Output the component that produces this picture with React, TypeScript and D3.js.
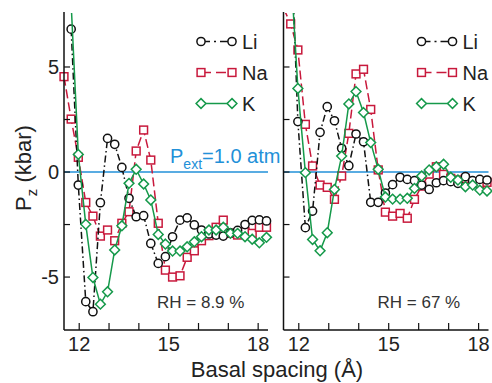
import React from 'react';
import * as d3 from 'd3';

// basal spacing grid (Å)
const spacing = [11.49, 11.73, 11.97, 12.22, 12.46, 12.71, 12.95, 13.19, 13.43, 13.67, 13.91, 14.16, 14.4, 14.65,
  14.89, 15.13, 15.38, 15.62, 15.86, 16.1, 16.35, 16.59, 16.83, 17.07, 17.31, 17.56, 17.8, 18.04, 18.28];

// RH = 8.9 %
const liLow = [null, 6.8, -0.62, -6.17, -6.65, -1.46, 1.6, 1.32, 0.22, -1.25, -2.13, -2.08, -3.4, -4.35,
  -4.03, -3.08, -2.29, -2.18, -2.52, -2.76, -2.95, -3.0, -3.05, -2.9, -2.78, -2.5, -2.3, -2.28, -2.33];
const naLow = [4.54, 2.52, 0.7, -1.45, -2.1, -3.05, -2.76, -3.27, -2.44, -1.89, 1.0, 2.0, 0.57, -2.44,
  -4.67, -5.0, -4.94, -4.06, -3.75, -3.27, -3.03, -2.63, -2.29, -2.92, -3.0, -2.84, -2.92, -2.63, -2.63];
const kLow = [null, 8.0, 0.84, -2.49, -5.02, -6.29, -5.7, -3.71, -2.56, -0.54, 0.13, -0.57, -1.33, -2.97,
  -3.43, -3.76, -3.76, -3.56, -3.32, -3.08, -2.76, -2.76, -2.63, -2.92, -2.92, -3.08, -3.2, -3.37, -3.11];

// RH = 67 %
const liHigh = [null, 11.5, 2.4, -2.65, -1.86, 1.89, 3.11, 2.44, 1.13, 0.3, 1.81, 1.44, -1.44, -1.44,
  -1.0, -0.6, -0.25, -0.35, -0.41, -0.62, -0.83, -0.51, -0.41, -0.46, -0.54, -0.22, -0.41, -0.35, -0.38];
const naHigh = [7.8, 7.05, 5.81, 2.27, 0.29, -0.62, -0.73, -1.3, -0.19, 1.84, 4.67, 4.89, 2.98, 0.1,
  -1.91, -2.1, -1.97, -2.2, -1.3, -0.67, -0.1, 0.25, -0.11, -0.3, -0.38, -0.3, -0.46, -0.54, -0.49];
const kHigh = [null, 9.7, 3.98, -0.03, -3.21, -3.75, -2.89, -0.83, 0.76, 3.24, 3.83, 2.83, 1.4, 0.13,
  -1.19, -1.29, -1.29, -1.25, -0.78, -0.19, 0.1, 0.25, 0.37, -0.25, -0.38, -0.7, -0.62, -0.86, -0.9];

const xTicks = [12, 13, 14, 15, 16, 17, 18];
const xTickLabels = [12, 15, 18];
const yTicks = [-5, -2.5, 0, 2.5, 5];
const yTickLabels = [-5, 0, 5];
const ions = ['Li', 'Na', 'K'];
const rhLabels = ['RH = 8.9 %', 'RH = 67 %'];

const colors: Record<string, string> = { Li: '#111111', Na: '#c8193c', K: '#15994a' };
const dashes: Record<string, string> = { Li: '7,3,1.5,3', Na: '9,4', K: 'none' };
const blue = '#2290d8';
const font = 'Arial, "Liberation Sans", sans-serif';

const W = 492;
const H = 383;
const top = 13;
const bottom = 330;

const y = d3.scaleLinear().domain([-7.52, 7.57]).range([bottom, top]);

type Pt = [number, number | null];

function Marker({ ion, cx, cy }: { ion: string; cx: number; cy: number }) {
  const c = colors[ion];
  if (ion === 'Li') return <circle cx={cx} cy={cy} r={4.1} fill="white" stroke={c} strokeWidth={1.5} />;
  if (ion === 'Na') return <rect x={cx - 3.9} y={cy - 3.9} width={7.8} height={7.8} fill="white" stroke={c} strokeWidth={1.5} />;
  const s = 4.9;
  return <path d={`M${cx},${cy - s}L${cx + s},${cy}L${cx},${cy + s}L${cx - s},${cy}Z`} fill="white" stroke={c} strokeWidth={1.5} />;
}

function Panel({ idx, left, right, series, rh, showY }:
  { idx: number; left: number; right: number; series: Record<string, (number | null)[]>; rh: string; showY: boolean }) {
  const x = d3.scaleLinear().domain([11.49, 18.33]).range([left, right]);
  const line = d3.line<Pt>()
    .defined(d => d[1] !== null)
    .x(d => x(d[0]))
    .y(d => y(d[1] as number));
  const clipId = `clip${idx}`;
  const legX = right - 67;
  const order = ['Na', 'Li', 'K'];
  return (
    <g>
      <defs>
        <clipPath id={clipId}>
          <rect x={left - 8} y={top} width={right - left + 16} height={bottom - top + 6} />
        </clipPath>
      </defs>
      <line x1={left} x2={right} y1={y(0)} y2={y(0)} stroke={blue} strokeWidth={1.5} />
      <g clipPath={`url(#${clipId})`}>
        {order.map(ion => {
          const pts: Pt[] = spacing.map((s, i) => [s, series[ion][i]]);
          return (
            <g key={ion}>
              <path d={line(pts) || ''} fill="none" stroke={colors[ion]} strokeWidth={1.5}
                strokeDasharray={dashes[ion]} />
              {pts.filter(p => p[1] !== null).map((p, i) => (
                <Marker key={i} ion={ion} cx={x(p[0])} cy={y(p[1] as number)} />
              ))}
            </g>
          );
        })}
      </g>
      {/* axes */}
      <line x1={left} x2={left} y1={top - 1} y2={bottom} stroke="#111" strokeWidth={1.5} />
      <line x1={left} x2={right} y1={bottom} y2={bottom} stroke="#111" strokeWidth={1.5} />
      {yTicks.map(t => (
        <line key={t} x1={left} x2={left + 6} y1={y(t)} y2={y(t)} stroke="#111" strokeWidth={1.2} />
      ))}
      {xTicks.map(t => (
        <line key={t} x1={x(t)} x2={x(t)} y1={bottom} y2={bottom - 7} stroke="#111" strokeWidth={1.2} />
      ))}
      {showY && yTickLabels.map(t => (
        <text key={t} x={left - 5} y={y(t)} dy="0.36em" textAnchor="end" fontSize={20} fontFamily={font} fill="#222">
          {t}
        </text>
      ))}
      {xTickLabels.map(t => (
        <text key={t} x={x(t)} y={351} textAnchor="middle" fontSize={20} fontFamily={font} fill="#222">{t}</text>
      ))}
      {/* legend */}
      {ions.map((ion, i) => {
        const ly = 41.5 + i * 31;
        return (
          <g key={ion}>
            <line x1={legX} x2={legX + 31} y1={ly} y2={ly} stroke={colors[ion]} strokeWidth={1.5}
              strokeDasharray={ion === 'Li' ? '9,4,2,4' : ion === 'Na' ? '10,5' : 'none'} />
            <Marker ion={ion} cx={legX} cy={ly} />
            <Marker ion={ion} cx={legX + 31} cy={ly} />
            <text x={legX + 41} y={ly} dy="0.36em" fontSize={20} fontFamily={font} fill="#222">{ion}</text>
          </g>
        );
      })}
      <text x={right - 111} y={308} fontSize={17} fontFamily={font} fill="#333">{rh}</text>
    </g>
  );
}

export default function App() {
  return (
    <svg width={W} height={H} style={{ position: 'absolute', left: 0, top: 0, background: 'white' }}>
      <Panel idx={0} left={64} right={268} series={{ Li: liLow, Na: naLow, K: kLow }} rh={rhLabels[0]} showY />
      <Panel idx={1} left={283.5} right={488.5} series={{ Li: liHigh, Na: naHigh, K: kHigh }} rh={rhLabels[1]} showY={false} />
      <text x={170} y={163} fontSize={20} fontFamily={font} fill={blue}>
        P<tspan fontSize={14} dy={6}>ext</tspan><tspan dy={-6}>=1.0 atm</tspan>
      </text>
      <text transform={`translate(31,${y(0) - 4}) rotate(-90)`} textAnchor="middle" fontSize={22} fontFamily={font} fill="#222">
        P<tspan fontSize={15} dy={6}>z</tspan><tspan dy={-6}> (kbar)</tspan>
      </text>
      <text x={277} y={377} textAnchor="middle" fontSize={22} fontFamily={font} fill="#222">Basal spacing (Å)</text>
    </svg>
  );
}
